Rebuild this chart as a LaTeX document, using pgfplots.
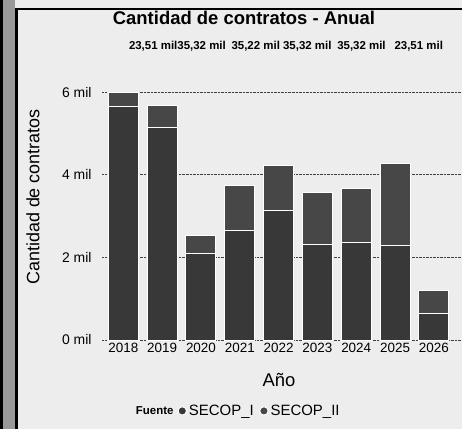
\documentclass[border=0pt]{standalone}
\usepackage{pgfplots}
\pgfplotsset{compat=1.18}
\usepackage{fontspec}
\setmainfont{Liberation Sans}
\definecolor{cardbg}{gray}{0.93}
\definecolor{secopI}{gray}{0.22}
\definecolor{secopII}{gray}{0.28}
\begin{document}
\begin{tikzpicture}[x=1bp,y=1bp]
\fill[cardbg] (0,0) rectangle (462,429);
\fill[black!40] (0,0) rectangle (15,429);
\fill[black] (0,0) rectangle (3,429);
\fill[black] (15,0) rectangle (17.5,420);
\fill[black] (15,418.5) rectangle (462,421);
\begin{axis}[
  at={(102bp,89bp)}, anchor=south west,
  scale only axis, width=359bp, height=256bp,
  ybar stacked, bar width=30bp,
  xmin=-0.55, xmax=8.7, ymin=0, ymax=6200,
  xtick={0,...,8},
  xticklabels={2018,2019,2020,2021,2022,2023,2024,2025,2026},
  ytick={0,2000,4000,6000},
  yticklabels={0 mil,2 mil,4 mil,6 mil},
  axis line style={draw=none}, major tick length=0pt,
  ymajorgrids, grid style={densely dotted, black!75, line width=0.8pt},
  tick label style={font=\fontsize{13.5}{15}\selectfont},
  yticklabel style={xshift=-7bp, font=\fontsize{14}{15}\selectfont},
  xticklabel style={yshift=0bp},
  legend columns=-1,
  legend style={at={(axis description cs:0.21,-0.277)}, anchor=west, draw=none, fill=none,
    font=\fontsize{15}{17}\selectfont, column sep=1bp, inner sep=0pt,
    /tikz/every odd column/.append style={column sep=0pt}},
  legend image code/.code={\fill (4bp,0bp) circle (4.2bp);},
]
\addplot[fill=secopI, draw=white, line width=1pt] coordinates {
 (0,5650) (1,5150) (2,2105) (3,2650) (4,3140) (5,2320) (6,2350) (7,2300) (8,650)};
\addplot[fill=secopII, draw=white, line width=1pt] coordinates {
 (0,340) (1,530) (2,435) (3,1100) (4,1090) (5,1260) (6,1330) (7,1980) (8,560)};
\legend{SECOP\_I\,,SECOP\_II}
\end{axis}
\node[font=\bfseries\fontsize{18.5}{21}\selectfont] at (244,411) {Cantidad de contratos - Anual};
\node[font=\bfseries\fontsize{11.5}{13}\selectfont] at (286,383) {23,51 mil35,32 mil\enspace 35,22 mil 35,32 mil\enspace 35,32 mil\enspace\ 23,51 mil};
\node[rotate=90, font=\fontsize{18}{20}\selectfont] at (33,232) {Cantidad de contratos};
\node[font=\fontsize{18.5}{21}\selectfont] at (279,49) {Año};
\node[anchor=east, font=\bfseries\fontsize{11.5}{14}\selectfont] at (177,18) {Fuente};
\end{tikzpicture}
\end{document}
